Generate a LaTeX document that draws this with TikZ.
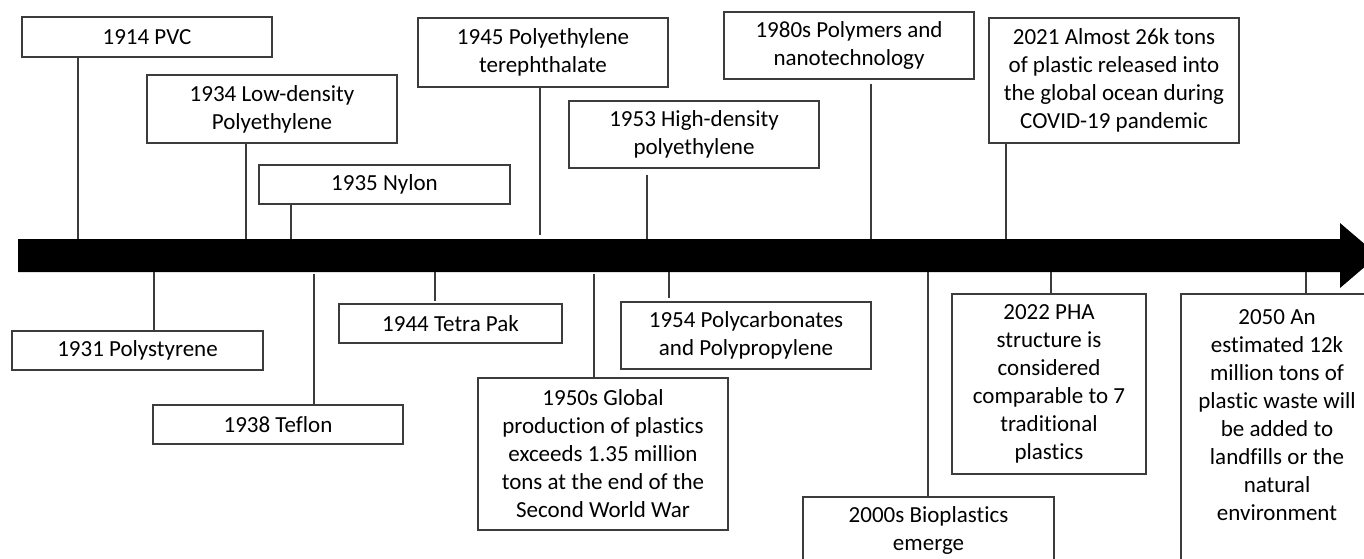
\documentclass[tikz,border=0pt]{standalone}
\usepackage{fontspec}
\setmainfont{Carlito}[Ligatures=NoCommon]
\definecolor{boxgray}{RGB}{60,60,60}
\begin{document}
\begin{tikzpicture}[x=1pt,y=-1pt,
  box/.style={draw=boxgray, line width=1.1pt, fill=white, align=center, inner sep=0pt,
    font=\fontsize{23}{28}\selectfont, text=black},
  txt/.style={align=center, inner sep=0pt, font=\fontsize{23}{28}\selectfont, text=black},
  conn/.style={draw=boxgray, line width=1.1pt}]
\useasboundingbox (0,0) rectangle (1364,558);
\clip (0,0) rectangle (1364,558);
\fill[white] (0,0) rectangle (1364,558);

% timeline arrow
\fill[black] (18,239) -- (1340,239) -- (1340,223) -- (1378,255.5) -- (1340,288) -- (1340,272) -- (18,272) -- cycle;
\coordinate (bt) at (0,239);
\coordinate (bb) at (0,272);

% upper boxes
\node[box, minimum width=250pt, minimum height=40pt] (pvc) at (147,37) {1914 PVC};
\node[box, minimum width=250pt, minimum height=68pt] (ldpe) at (272,109) {1934 Low-density\\Polyethylene};
\node[box, minimum width=251pt, minimum height=39pt] (nylon) at (384.5,184.5) {1935 Nylon};
\node[box, minimum width=250pt, minimum height=69pt] (pet) at (543,52.5) {1945 Polyethylene\\terephthalate};
\node[box, minimum width=250pt, minimum height=67pt] (hdpe) at (694,134.5) {1953 High-density\\polyethylene};
\node[box, minimum width=250pt, minimum height=67pt] (nano) at (849,45.5) {1980s Polymers and\\nanotechnology};
\node[box, minimum width=250pt, minimum height=125pt] (covid) at (1114,80.5) {2021 Almost 26k tons\\of plastic released into\\the global ocean during\\COVID-19 pandemic};

% lower boxes
\node[box, minimum width=251pt, minimum height=39pt] (ps) at (137.5,350.5) {1931 Polystyrene};
\node[box, minimum width=250pt, minimum height=39pt] (teflon) at (278,424.5) {1938 Teflon};
\node[box, minimum width=223pt, minimum height=39pt] (tetra) at (450.5,323.5) {1944 Tetra Pak};
\node[box, minimum width=250pt, minimum height=152pt] (global) at (603,454) {1950s Global\\production of plastics\\exceeds 1.35 million\\tons at the end of the\\Second World War};
\node[box, minimum width=250pt, minimum height=67pt] (pc) at (746,335.5) {1954 Polycarbonates\\and Polypropylene};
\node[box, minimum width=251pt, minimum height=67pt] (bio) at (928.5,530.5) {2000s Bioplastics\\emerge};
\node[box, minimum width=194pt, minimum height=180pt] (pha) at (1049,384) {2022 PHA\\structure is\\considered\\comparable to 7\\traditional\\plastics};
\node[box, minimum width=192pt, minimum height=306pt] (b2050) at (1277,447) {};
\node[txt] (t2050) at (1277,415.5) {2050 An\\estimated 12k\\million tons of\\plastic waste will\\be added to\\landfills or the\\natural\\environment};

% connector x positions
\coordinate (xpvc) at (78,0);
\coordinate (xldpe) at (246,0);
\coordinate (xnylon) at (291,0);
\coordinate (xpet) at (540,0);
\coordinate (xhdpe) at (647,0);
\coordinate (xnano) at (871,0);
\coordinate (xcovid) at (1006,0);
\coordinate (xps) at (154,0);
\coordinate (xteflon) at (314,0);
\coordinate (xtetra) at (435,0);
\coordinate (xglobal) at (594,0);
\coordinate (xpc) at (669,0);
\coordinate (xbio) at (928,0);
\coordinate (xpha) at (1051,0);
\coordinate (x2050) at (1306,0);

% upper connectors
\draw[conn] (pvc.south -| xpvc) -- (xpvc |- bt);
\draw[conn] (ldpe.south -| xldpe) -- (xldpe |- bt);
\draw[conn] (nylon.south -| xnylon) -- (xnylon |- bt);
\draw[conn] (pet.south -| xpet) -- ([yshift=4pt]xpet |- bt);
\draw[conn] ([yshift=-6pt]hdpe.south -| xhdpe) -- (xhdpe |- bt);
\draw[conn] ([yshift=-4pt]nano.south -| xnano) -- (xnano |- bt);
\draw[conn] (covid.south -| xcovid) -- (xcovid |- bt);

% lower connectors
\draw[conn] (xps |- bb) -- (ps.north -| xps);
\draw[conn] ([yshift=-2pt]xteflon |- bb) -- (teflon.north -| xteflon);
\draw[conn] (xtetra |- bb) -- ([yshift=2pt]tetra.north -| xtetra);
\draw[conn] ([yshift=-2pt]xglobal |- bb) -- (global.north -| xglobal);
\draw[conn] (xpc |- bb) -- ([yshift=3pt]pc.north -| xpc);
\draw[conn] (xbio |- bb) -- (bio.north -| xbio);
\draw[conn] (xpha |- bb) -- (pha.north -| xpha);
\draw[conn] (x2050 |- bb) -- (b2050.north -| x2050);
\end{tikzpicture}
\end{document}
